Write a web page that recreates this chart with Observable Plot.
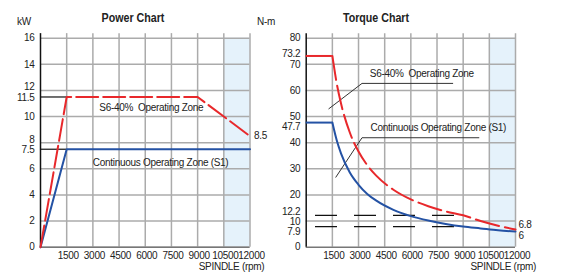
<!DOCTYPE html>
<html><head><meta charset="utf-8">
<script src="https://cdn.jsdelivr.net/npm/d3@7"></script>
<script src="https://cdn.jsdelivr.net/npm/@observablehq/plot@0.6"></script>
<style>
body{margin:0;background:#fff;}
#wrap{position:relative;width:569px;height:273px;overflow:hidden;font-family:"Liberation Sans",Arial,sans-serif;color:#222;}
.lbl{position:absolute;font-size:10px;line-height:12px;white-space:nowrap;letter-spacing:-0.3px;}
.ttl{position:absolute;font-size:13px;font-weight:bold;line-height:14px;white-space:nowrap;transform:translateX(-50%) scaleX(0.82);}
#wrap svg{position:absolute;top:0;letter-spacing:-0.3px;}
</style></head><body><div id="wrap"></div>
<script>
// ---- data ----
const rpmTicks = [1500, 3000, 4500, 6000, 7500, 9000, 10500, 12000];
const powerTicks = [0, 2, 4, 6, 7.5, 8, 10, 11.5, 12, 14, 16];
const powerGrid = [0, 2, 4, 6, 8, 10, 12, 14, 16];
const torqueTicks = [0, 7.9, 10, 12.2, 20, 30, 40, 47.7, 50, 60, 70, 73.2, 80];
const torqueGrid = [10, 20, 30, 40, 50, 60, 70, 80];
const zoneRpm = [10500, 12000];

const s6PowerRpm = [0, 1500, 9000, 12000];
const s6PowerKw = [0, 11.5, 11.5, 8.5];
const s1PowerRpm = [0, 1500, 12000];
const s1PowerKw = [0, 7.5, 7.5];
const powerRatedKw = [11.5, 7.5];
const baseRpm = 1500;

const s6TorqueRpm = [1500, 1750, 2000, 2500, 3000, 3500, 4000, 5000, 6000, 7000, 8000, 9000, 10000, 11000, 12000];
const s6TorqueNm  = [73.2, 62.7, 54.9, 43.9, 36.6, 31.4, 27.5, 22.0, 18.3, 15.7, 13.7, 12.2, 10.0, 8.2, 6.8];
const s1TorqueRpm = [1500, 1750, 2000, 2500, 3000, 3500, 4000, 5000, 6000, 7000, 8000, 9000, 10000, 11000, 12000];
const s1TorqueNm  = [47.7, 40.9, 35.8, 28.6, 23.9, 20.4, 17.9, 14.3, 11.9, 10.2, 8.9, 7.9, 7.2, 6.5, 6.0];
const torqueRated = [73.2, 47.7];
const torqueRefLines = [12.2, 7.9];
const refLineEndRpm = 9000;

const s6LeaderRpm = [1300, 3200, 8400];
const s6LeaderNm  = [53.0, 62.7, 62.7];
const s1LeaderRpm = [1700, 3200, 9900];
const s1LeaderNm  = [26.8, 41.9, 41.9];

const powerNotes = [
  {text: "S6-40%\u00a0\u00a0Operating Zone", rpm: 6350, val: 10.7},
  {text: "Continuous Operating Zone (S1)", rpm: 6880, val: 6.43}
];
const torqueNotes = [
  {text: "S6-40%\u00a0\u00a0Operating Zone", rpm: 3650, val: 66.2},
  {text: "Continuous Operating Zone (S1)", rpm: 3690, val: 45.7}
];
const powerEnd = [{text: "8.5", rpm: 12000, val: 8.5}];
const torqueEndUpper = [{text: "6.8", rpm: 12000, val: 6.8}];
const torqueEndLower = [{text: "6", rpm: 12000, val: 6.0}];

// ---- style ----
const RED = "#e8282b", BLUE = "#2452a4", GRID = "#ababab", SHADE = "#e5f2fb";
const FONT = '"Liberation Sans",Arial,sans-serif';
const pts = (xs, ys) => xs.map((x, i) => ({x, y: ys[i]}));
const style = {fontFamily: FONT, fontSize: "10px", color: "#222", background: "transparent", overflow: "visible"};
const fmt = d => String(d);
const axisOpts = {tickSize: 0, tickPadding: 6, label: null, fill: "#222", tickFormat: fmt};

const power = Plot.plot({
  width: 285, height: 273,
  marginLeft: 40, marginRight: 35.5, marginTop: 37.7, marginBottom: 26.3,
  x: {domain: [0, 12000], axis: null},
  y: {domain: [0, 16], axis: null},
  style,
  marks: [
    Plot.rect([zoneRpm], {x1: d => d[0], x2: d => d[1], y1: 0, y2: 16, fill: SHADE}),
    Plot.ruleY(powerGrid, {stroke: GRID, strokeWidth: 1.5}),
    Plot.ruleX(rpmTicks, {y1: 0, y2: 16.35, stroke: GRID, strokeWidth: 1.5}),
    Plot.ruleY([0], {stroke: "#777", strokeWidth: 1.5}),
    Plot.ruleX([0], {y1: 0, y2: 16.35, stroke: "#111", strokeWidth: 1.5}),
    Plot.ruleY(powerRatedKw, {x1: 0, x2: baseRpm, stroke: "#111", strokeWidth: 1.2}),
    Plot.line(pts(s1PowerRpm, s1PowerKw), {x: "x", y: "y", stroke: BLUE, strokeWidth: 2}),
    Plot.line(pts(s6PowerRpm, s6PowerKw), {x: "x", y: "y", stroke: RED, strokeWidth: 2, strokeDasharray: "22,5"}),
    Plot.text(powerNotes, {x: "rpm", y: "val", text: "text", fill: "#222"}),
    Plot.text(powerEnd, {x: "rpm", y: "val", text: "text", textAnchor: "start", dx: 4, fill: "#222"}),
    Plot.axisX(rpmTicks, {...axisOpts, tickPadding: 5, dx: 1.5}),
    Plot.axisY(powerTicks.filter(t => ![7.5, 8, 11.5, 12].includes(t)), axisOpts),
    Plot.axisY([7.5], {...axisOpts, dy: 1}),
    Plot.axisY([8], {...axisOpts, dy: -3}),
    Plot.axisY([11.5], {...axisOpts, dy: 1}),
    Plot.axisY([12], {...axisOpts, dy: -3.5})
  ]
});

const torque = Plot.plot({
  width: 299, height: 273,
  marginLeft: 35.7, marginRight: 54, marginTop: 37.7, marginBottom: 26.3,
  x: {domain: [0, 12000], axis: null},
  y: {domain: [0, 80], axis: null},
  style,
  marks: [
    Plot.rect([zoneRpm], {x1: d => d[0], x2: d => d[1], y1: 0, y2: 80, fill: SHADE}),
    Plot.ruleY(torqueGrid, {stroke: GRID, strokeWidth: 1.5}),
    Plot.ruleX(rpmTicks, {y1: 0, y2: 81.7, stroke: GRID, strokeWidth: 1.5}),
    Plot.ruleY([0], {stroke: "#777", strokeWidth: 1.5}),
    Plot.ruleX([0], {y1: 0, y2: 81.7, stroke: "#111", strokeWidth: 1.5}),
    Plot.ruleY(torqueRefLines, {x1: 0, x2: refLineEndRpm, stroke: "#111", strokeWidth: 1.2, strokeDasharray: "22,17", strokeDashoffset: 29.7}),
    Plot.line(pts(s6LeaderRpm, s6LeaderNm), {x: "x", y: "y", stroke: "#333", strokeWidth: 1}),
    Plot.line(pts(s1LeaderRpm, s1LeaderNm), {x: "x", y: "y", stroke: "#333", strokeWidth: 1}),
    Plot.ruleY([torqueRated[1]], {x1: 0, x2: baseRpm, stroke: BLUE, strokeWidth: 2}),
    Plot.line(pts(s1TorqueRpm, s1TorqueNm), {x: "x", y: "y", stroke: BLUE, strokeWidth: 2, curve: "monotone-x"}),
    Plot.ruleY([torqueRated[0]], {x1: 0, x2: baseRpm, stroke: RED, strokeWidth: 2}),
    Plot.line(pts(s6TorqueRpm, s6TorqueNm), {x: "x", y: "y", stroke: RED, strokeWidth: 2, curve: "monotone-x", strokeDasharray: "24,6"}),
    Plot.text(torqueNotes, {x: "rpm", y: "val", text: "text", textAnchor: "start", fill: "#222"}),
    Plot.text(torqueEndUpper, {x: "rpm", y: "val", text: "text", textAnchor: "start", dx: 3, dy: -4.5, fill: "#222"}),
    Plot.text(torqueEndLower, {x: "rpm", y: "val", text: "text", textAnchor: "start", dx: 3, dy: 4.5, fill: "#222"}),
    Plot.axisX(rpmTicks, {...axisOpts, tickPadding: 5, dx: 1.5}),
    Plot.axisY(torqueTicks.filter(t => ![73.2, 47.7, 12.2, 10, 7.9].includes(t)), axisOpts),
    Plot.axisY([73.2], {...axisOpts, dy: -2.5}),
    Plot.axisY([47.7], {...axisOpts, dy: 4.5}),
    Plot.axisY([12.2], {...axisOpts, dy: -4}),
    Plot.axisY([10], {...axisOpts, dy: 0.5}),
    Plot.axisY([7.9], {...axisOpts, dy: 5})
  ]
});

const wrap = document.getElementById("wrap");
power.style.left = "0px";
torque.style.left = "270px";
wrap.appendChild(power);
wrap.appendChild(torque);

function addText(cls, text, css) {
  const d = document.createElement("div");
  d.className = cls;
  d.textContent = text;
  Object.assign(d.style, css);
  wrap.appendChild(d);
}
addText("ttl", "Power Chart", {left: "133px", top: "11px"});
addText("ttl", "Torque Chart", {left: "376px", top: "11px"});
addText("lbl", "kW", {left: "17px", top: "15.5px"});
addText("lbl", "N-m", {left: "257px", top: "16px"});
addText("lbl", "SPINDLE (rpm)", {right: "304.7px", top: "260.5px"});
addText("lbl", "SPINDLE (rpm)", {right: "33px", top: "260.5px"});
</script>
</body></html>
